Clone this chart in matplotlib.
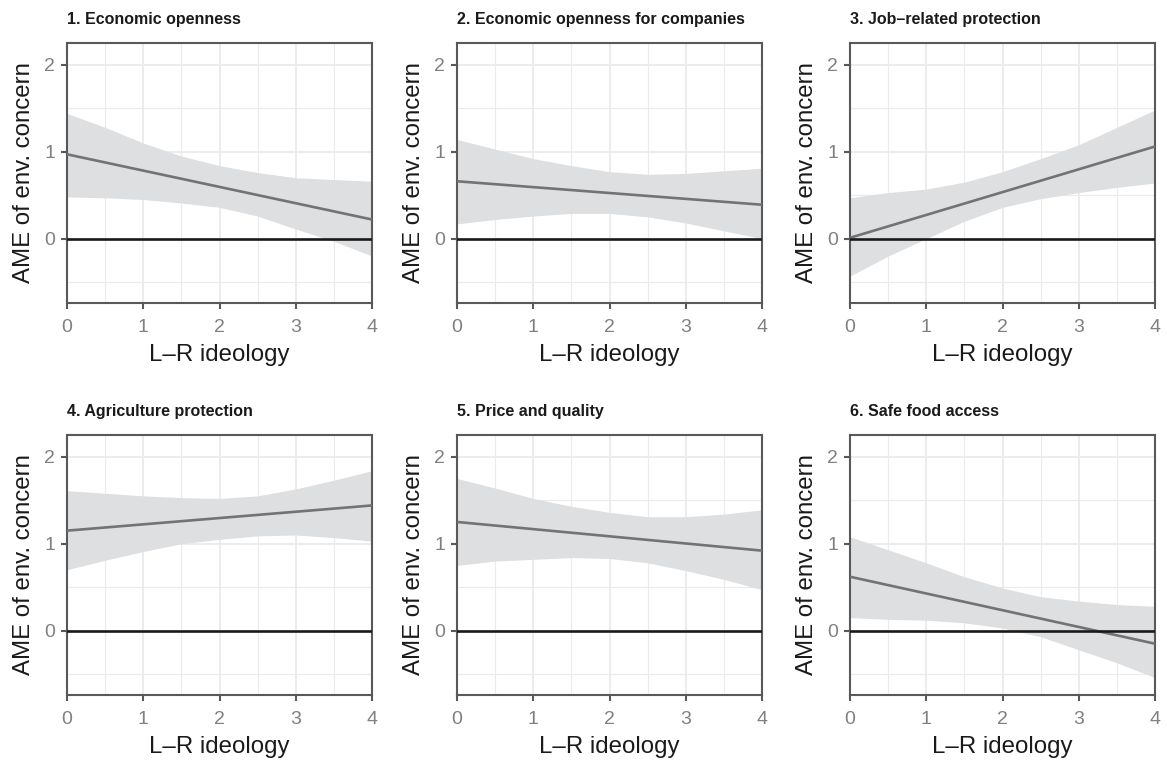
"""plot.py — AME of environmental concern across L-R ideology, six trade attitudes."""
import matplotlib.pyplot as plt
import numpy as np

plt.rcParams["font.family"] = ["Liberation Sans", "DejaVu Sans"]

# ── data ──────────────────────────────────────────────────────────────
ideology = [0, 0.5, 1, 1.5, 2, 2.5, 3, 3.5, 4]

titles = [
    "1. Economic openness",
    "2. Economic openness for companies",
    "3. Job\u2013related protection",
    "4. Agriculture protection",
    "5. Price and quality",
    "6. Safe food access",
]

# estimate at ideology = 0 and 4 (straight line)
ame_start = [0.97, 0.66, 0.01, 1.15, 1.25, 0.62]
ame_end = [0.22, 0.39, 1.06, 1.44, 0.92, -0.15]

ci_upper = [
    [1.44, 1.28, 1.10, 0.95, 0.84, 0.76, 0.70, 0.68, 0.66],
    [1.14, 1.03, 0.92, 0.84, 0.77, 0.74, 0.75, 0.78, 0.81],
    [0.47, 0.53, 0.57, 0.65, 0.77, 0.92, 1.08, 1.28, 1.48],
    [1.61, 1.58, 1.55, 1.53, 1.52, 1.55, 1.63, 1.73, 1.84],
    [1.75, 1.64, 1.52, 1.43, 1.36, 1.31, 1.31, 1.34, 1.39],
    [1.08, 0.93, 0.78, 0.62, 0.49, 0.39, 0.34, 0.30, 0.28],
]
ci_lower = [
    [0.48, 0.47, 0.45, 0.41, 0.36, 0.26, 0.11, -0.03, -0.20],
    [0.17, 0.22, 0.26, 0.29, 0.29, 0.25, 0.18, 0.09, 0.00],
    [-0.43, -0.20, 0.00, 0.20, 0.36, 0.46, 0.53, 0.59, 0.64],
    [0.70, 0.81, 0.91, 1.00, 1.05, 1.09, 1.10, 1.07, 1.03],
    [0.75, 0.80, 0.82, 0.84, 0.83, 0.78, 0.69, 0.59, 0.47],
    [0.15, 0.13, 0.12, 0.09, 0.03, -0.07, -0.22, -0.37, -0.54],
]

# ── layout (pixels of a 1167x764 canvas) ─────────────────────────────
W, H = 1167, 764
col_left = [67, 457, 850]
row_top = [43, 435]
panel_w, panel_h = 305, 260

BORDER = "#595959"
GRID = "#EBEBEB"
TICK_TXT = "#808080"

fig = plt.figure(figsize=(W / 100, H / 100), dpi=100)

for i, title in enumerate(titles):
    r, c = divmod(i, 3)
    left = col_left[c] / W
    bottom = 1 - (row_top[r] + panel_h) / H
    ax = fig.add_axes([left, bottom, panel_w / W, panel_h / H])

    ax.fill_between(ideology, ci_lower[i], ci_upper[i], color="#DEDFE1", lw=0, zorder=2)
    ax.plot([ideology[0], ideology[-1]], [ame_start[i], ame_end[i]], color="#737373", lw=1.9,
            zorder=3, solid_capstyle="butt")
    ax.axhline(0, color="#1A1A1A", lw=1.9, zorder=4)

    ax.set_xlim(0, 4)
    ax.set_ylim(-0.74, 2.25)
    ax.set_xticks([0, 1, 2, 3, 4])
    ax.set_yticks([0, 1, 2])
    ax.set_xticks([0.5, 1.5, 2.5, 3.5], minor=True)
    ax.set_yticks([-0.5, 0.5, 1.5], minor=True)
    ax.grid(which="major", color=GRID, lw=1.3, zorder=0)
    ax.grid(which="minor", color=GRID, lw=0.8, zorder=0)
    ax.set_axisbelow(True)

    for sp in ax.spines.values():
        sp.set_color(BORDER)
        sp.set_linewidth(1.5)
    ax.tick_params(which="major", length=4.5, width=1.5, color=BORDER, labelcolor=TICK_TXT,
                   labelsize=14)
    ax.tick_params(axis="x", which="major", pad=7)
    ax.tick_params(axis="y", which="major", pad=4)
    ax.tick_params(which="minor", length=0)

    ax.set_xlabel("L\u2013R ideology", fontsize=17.3, color="#1A1A1A", labelpad=6)
    ax.set_ylabel("AME of env. concern", fontsize=17.3, color="#1A1A1A", labelpad=7)
    ax.set_title(title, loc="left", fontsize=11.5, fontweight="bold", color="#1A1A1A", pad=14)

fig.savefig("out.png", dpi=100)
